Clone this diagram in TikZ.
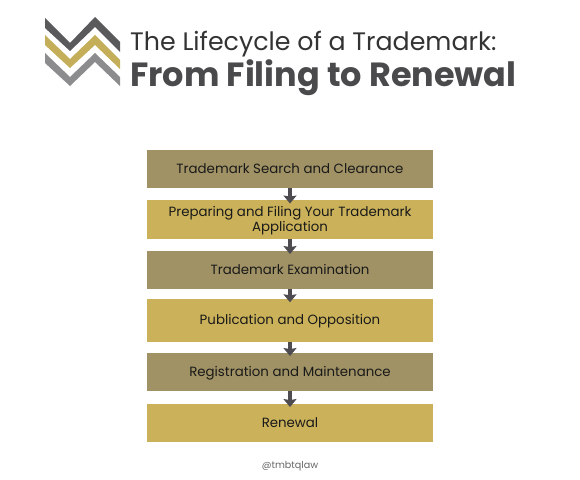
\documentclass[tikz,border=0pt]{standalone}
\usepackage{fontspec}
\setmainfont{Poppins}
\usetikzlibrary{positioning,arrows.meta}

\definecolor{olivebox}{HTML}{A09265}
\definecolor{goldbox}{HTML}{CBB25A}
\definecolor{arrowgray}{HTML}{4D4B50}
\definecolor{logodark}{HTML}{5A5A5C}
\definecolor{logogold}{HTML}{C4AE5A}
\definecolor{logogray}{HTML}{8C8C8E}
\definecolor{titlegray}{HTML}{4A4A4C}

\begin{document}
\begin{tikzpicture}[
    x=1pt, y=-1pt,
    stepbox/.style={minimum width=286pt, minimum height=38.5pt, inner sep=0pt,
                    font=\fontsize{13.35}{15}\selectfont, text=black!90},
    olive/.style={stepbox, fill=olivebox, text height=11.5pt, text depth=3.5pt},
    gold/.style={stepbox, fill=goldbox, text height=11.5pt, text depth=3.5pt},
    op/.style={-{Stealth[length=8pt, width=13pt, inset=1pt]}, arrowgray, line width=4.5pt,
               shorten >=-3.5pt},
  ]
  \useasboundingbox (0,0) rectangle (580,479);

  % ---------- logo chevrons ----------
  \fill[logodark] (45,18) -- (70,43) -- (95,17) -- (120,42) -- (120,52) -- (95,27) -- (70,51) -- (45,28) -- cycle;
  \fill[logogold] (45,35) -- (70,59) -- (95,35) -- (120,60) -- (120,69) -- (95,45) -- (70,68) -- (45,45) -- cycle;
  \fill[logogray] (45,53) -- (70,77) -- (95,53) -- (120,77) -- (120,86) -- (95,62) -- (70,86) -- (45,63) -- cycle;

  % ---------- title ----------
  \node[anchor=base west, inner sep=0pt, text=black!80, font=\fontsize{25.3}{28}\selectfont] (title) at (130,50) {The Lifecycle of a Trademark:};
  \node[anchor=base west, inner sep=0pt, text=titlegray, font=\fontsize{33.5}{36}\selectfont\bfseries] (subtitle) at (130,86.5) {From Filing to Renewal};

  % ---------- steps ----------
  \node[olive] (search) at (290,169) {Trademark Search and Clearance};
  \node[stepbox, fill=goldbox, align=center] (filing) at (290,219.5) {\rule{0pt}{12.5pt}Preparing and Filing Your Trademark\\Application};
  \node[olive] (exam) at (290,270) {Trademark Examination};
  \node[gold, minimum height=43pt] (publication) at (290,320.5) {Publication and Opposition};
  \node[olive] (registration) at (290,372) {Registration and Maintenance};
  \node[gold] (renewal) at (290,423) {Renewal};

  % ---------- arrows ----------
  \draw[op] (search) -- (filing);
  \draw[op] (filing) -- (exam);
  \draw[op] (exam) -- (publication);
  \draw[op] (publication) -- (registration);
  \draw[op] (registration) -- (renewal);

  % ---------- footer ----------
  \node[font=\fontsize{9.6}{11}\selectfont, text=black!60] (handle) at (290,466) {@tmbtqlaw};

\end{tikzpicture}
\end{document}
